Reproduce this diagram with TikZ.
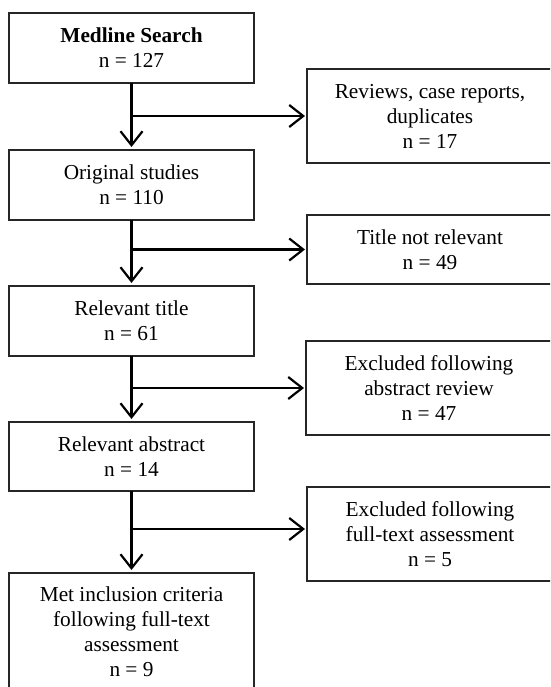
\documentclass[tikz,border=0pt]{standalone}
\usepackage{fontspec}
\setmainfont{Liberation Serif}
\usetikzlibrary{arrows.meta}
\tikzset{
  box/.style={draw=black!85, line width=1.1pt, anchor=north west, inner sep=0pt, outer sep=0pt,
    align=center, font=\fontsize{21.3}{25}\selectfont},
  lbox/.style={box, minimum width=245pt},
  rbox/.style={box, minimum width=246pt},
  flow/.style={line width=2.2pt, -{Straight Barb[length=14pt,width=22pt,line width=2.2pt]}, shorten >=3pt},
  side/.style={line width=2.2pt, -{Straight Barb[length=14pt,width=22pt,line width=2.2pt]}, shorten >=2pt}
}
\begin{document}
\begin{tikzpicture}[x=1pt,y=1pt]
\useasboundingbox (0,0) rectangle (550,-687);
\clip (0,0) rectangle (550,-687);
\node[lbox, minimum height=70pt] (m1) at (9,-13) {\textbf{Medline Search}\\n = 127};
\node[lbox, minimum height=70pt] (m2) at (9,-150) {Original studies\\n = 110};
\node[lbox, minimum height=70pt] (m3) at (9,-286) {Relevant title\\n = 61};
\node[lbox, minimum height=69pt] (m4) at (9,-422) {Relevant abstract\\n = 14};
\node[lbox, minimum height=118pt] (m5) at (9,-573) {Met inclusion criteria\\following full-text\\assessment\\n = 9};
\node[rbox, minimum height=94pt] (r1) at (307,-69) {Reviews, case reports,\\duplicates\\n = 17};
\node[rbox, minimum height=69pt] (r2) at (307,-215) {Title not relevant\\n = 49};
\node[rbox, minimum height=94pt] (r3) at (306,-341) {Excluded following\\abstract review\\n = 47};
\node[rbox, minimum height=94pt] (r4) at (307,-487) {Excluded following\\full-text assessment\\n = 5};
\draw[flow] (m1) -- (m2);
\draw[flow] (m2) -- (m3);
\draw[flow] (m3) -- (m4);
\draw[flow] (m4) -- (m5);
\coordinate (b1) at (m1.south |- r1.west);
\coordinate (b2) at (m2.south |- r2.west);
\coordinate (b3) at (m3.south |- r3.west);
\coordinate (b4) at (m4.south |- 0,-529);
\draw[side] (b1) -- (r1.west);
\draw[side] (b2) -- (r2.west);
\draw[side] (b3) -- (r3.west);
\draw[side] (b4) -- (r4.west |- b4);
\end{tikzpicture}
\end{document}
